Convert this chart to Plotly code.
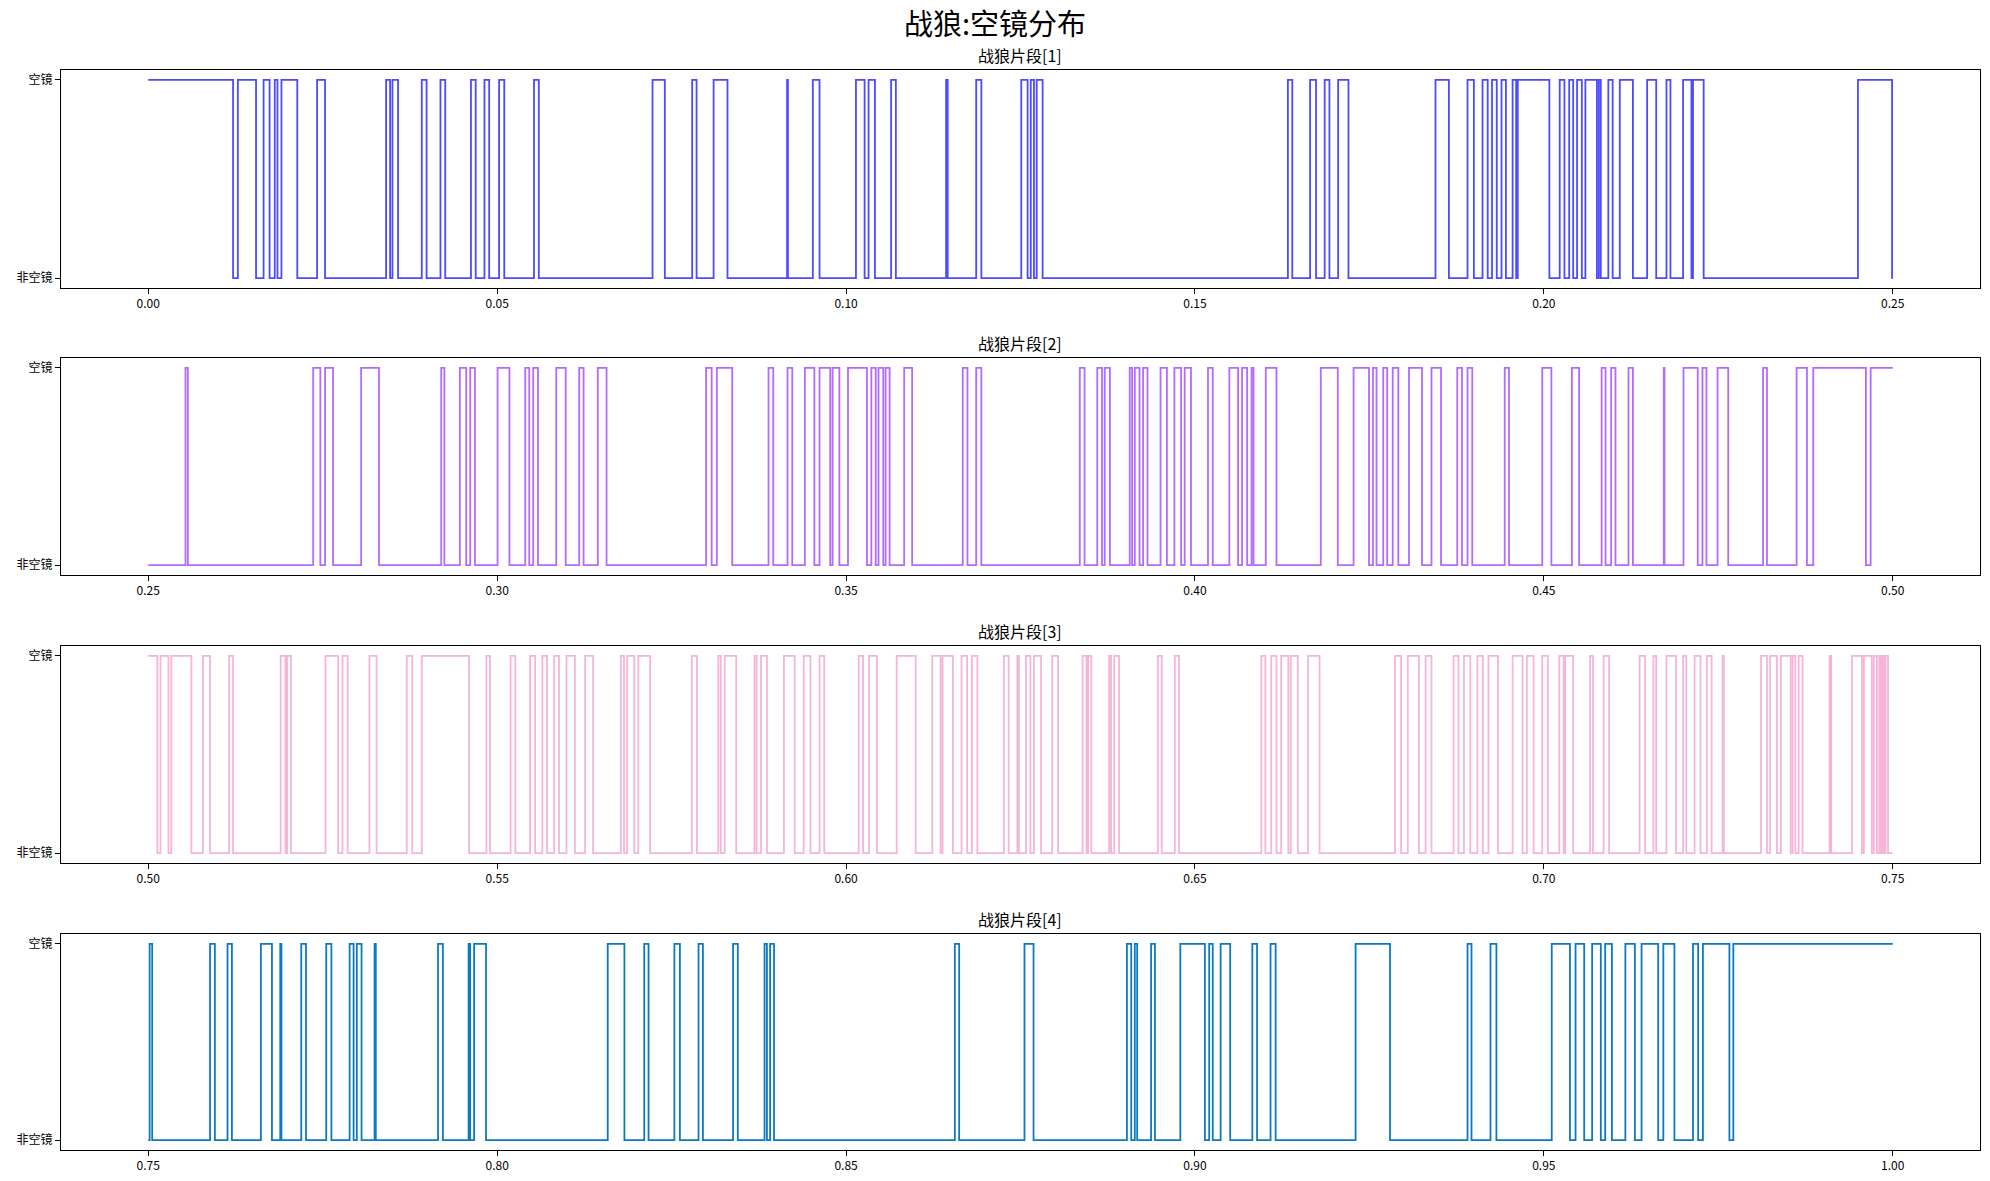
import plotly.graph_objects as go

# ---------------- data: "空镜" (empty shot) intervals per segment ----------------
seg_titles = ["战狼片段[1]", "战狼片段[2]", "战狼片段[3]", "战狼片段[4]"]
seg_bounds = [(0.0, 0.25), (0.25, 0.50), (0.50, 0.75), (0.75, 1.00)]
y_ticktext = ["非空镜", "空镜"]
colors = ["#4b4bff", "#b36bff", "#f5b5d8", "#0d7abf"]

seg1_on = [
    (0.0, 0.01216), (0.01284, 0.01545), (0.01653, 0.01739), (0.01813, 0.01852),
    (0.01909, 0.02136), (0.0242, 0.02534), (0.03409, 0.03466), (0.035, 0.0358),
    (0.0392, 0.03989), (0.04188, 0.04256), (0.04625, 0.04693), (0.04818, 0.04886),
    (0.05028, 0.05102), (0.05528, 0.05597), (0.07227, 0.07403), (0.07795, 0.07858),
    (0.08102, 0.08301), (0.09155, 0.09167), (0.09524, 0.0962), (0.10142, 0.10266),
    (0.10323, 0.10414), (0.10646, 0.10714), (0.11434, 0.11457), (0.11865, 0.11939),
    (0.12511, 0.12602), (0.12647, 0.12693), (0.12732, 0.12817), (0.16332, 0.16395),
    (0.1665, 0.16735), (0.16859, 0.16927), (0.17052, 0.172), (0.18447, 0.18639),
    (0.18906, 0.18997), (0.19121, 0.19195), (0.19257, 0.19325), (0.19393, 0.19456),
    (0.19552, 0.19603), (0.19626, 0.20079), (0.20227, 0.20295), (0.20363, 0.2042),
    (0.20476, 0.20544), (0.20595, 0.2076), (0.20788, 0.20816), (0.20924, 0.20986),
    (0.21088, 0.21276), (0.2148, 0.2161), (0.21757, 0.21814), (0.21995, 0.22115),
    (0.22137, 0.2229), (0.24501, 0.2499),
]

seg2_on = [
    (0.25534, 0.25568), (0.27364, 0.27466), (0.27534, 0.27648), (0.28051, 0.28307),
    (0.29199, 0.29244), (0.29466, 0.29557), (0.29614, 0.29682), (0.30006, 0.30176),
    (0.30403, 0.3046), (0.30517, 0.30585), (0.30847, 0.30983), (0.31176, 0.31239),
    (0.31443, 0.31568), (0.32994, 0.33074), (0.33148, 0.33369), (0.33889, 0.33957),
    (0.34161, 0.34229), (0.3441, 0.34546), (0.3462, 0.34773), (0.34807, 0.34904),
    (0.35028, 0.353), (0.35363, 0.35425), (0.35465, 0.35533), (0.35567, 0.35624),
    (0.35833, 0.35947), (0.36672, 0.3674), (0.36865, 0.36939), (0.3835, 0.38418),
    (0.386, 0.38668), (0.38707, 0.38781), (0.39065, 0.39099), (0.39138, 0.39206),
    (0.39257, 0.3932), (0.39507, 0.39598), (0.39705, 0.39802), (0.39853, 0.39943),
    (0.40187, 0.40255), (0.40493, 0.40618), (0.40675, 0.40748), (0.40811, 0.40839),
    (0.41015, 0.41168), (0.41803, 0.42047), (0.42273, 0.42494), (0.42551, 0.42602),
    (0.42698, 0.42755), (0.42834, 0.42914), (0.43067, 0.43254), (0.4339, 0.43526),
    (0.43759, 0.43827), (0.43906, 0.43974), (0.44439, 0.44501), (0.44977, 0.45108),
    (0.45402, 0.45505), (0.45828, 0.45884), (0.45964, 0.46026), (0.46213, 0.46276),
    (0.46718, 0.46729), (0.47001, 0.47205), (0.47273, 0.4733), (0.47489, 0.47642),
    (0.48141, 0.48197), (0.48622, 0.4877), (0.48861, 0.49615), (0.49683, 0.50),
]

seg3_on = [
    (0.50, 0.50131), (0.50176, 0.5029), (0.5033, 0.50619), (0.50784, 0.50886),
    (0.51159, 0.51216), (0.51898, 0.51966), (0.51989, 0.52045), (0.5254, 0.52722),
    (0.52784, 0.52858), (0.5317, 0.53273), (0.53705, 0.53784), (0.5392, 0.54597),
    (0.54847, 0.54898), (0.55193, 0.55261), (0.55472, 0.55545), (0.55648, 0.55716),
    (0.55818, 0.55886), (0.55994, 0.56114), (0.56261, 0.56375), (0.56773, 0.56818),
    (0.56864, 0.56966), (0.57023, 0.57193), (0.5779, 0.57864), (0.5817, 0.58205),
    (0.58261, 0.58426), (0.58688, 0.58719), (0.58781, 0.58866), (0.5911, 0.59263),
    (0.59393, 0.5949), (0.5962, 0.59688), (0.60181, 0.60244), (0.60329, 0.60442),
    (0.60726, 0.60998), (0.61236, 0.61355), (0.61383, 0.61531), (0.61655, 0.61735),
    (0.61803, 0.61882), (0.62262, 0.6233), (0.62455, 0.62477), (0.62579, 0.62642),
    (0.62693, 0.62795), (0.62954, 0.63039), (0.6339, 0.63447), (0.63469, 0.63515),
    (0.6377, 0.63798), (0.63844, 0.63912), (0.64467, 0.64524), (0.64711, 0.64773),
    (0.65952, 0.66009), (0.66094, 0.66168), (0.66236, 0.66338), (0.66372, 0.66474),
    (0.66621, 0.66786), (0.67868, 0.67954), (0.6805, 0.68209), (0.68305, 0.6839),
    (0.68707, 0.68776), (0.68855, 0.68946), (0.69048, 0.69127), (0.69206, 0.69342),
    (0.69552, 0.69694), (0.69756, 0.69853), (0.69977, 0.70057), (0.70221, 0.70283),
    (0.70306, 0.7042), (0.70663, 0.70703), (0.70856, 0.70935), (0.71372, 0.71451),
    (0.7157, 0.7161), (0.71757, 0.71893), (0.71995, 0.72041), (0.7216, 0.72245),
    (0.72336, 0.72404), (0.72562, 0.72579), (0.73112, 0.73197), (0.73243, 0.73339),
    (0.73396, 0.73537), (0.73566, 0.73605), (0.73651, 0.73707), (0.74093, 0.74116),
    (0.74416, 0.74558), (0.74586, 0.74699), (0.74728, 0.74773), (0.74807, 0.7483),
    (0.74853, 0.74875), (0.74898, 0.74932),
]

seg4_on = [
    (0.7502, 0.75057), (0.75886, 0.75955), (0.76136, 0.76199), (0.76614, 0.76773),
    (0.76892, 0.76909), (0.77193, 0.77261), (0.77551, 0.77625), (0.77886, 0.77943),
    (0.77989, 0.78057), (0.78244, 0.78261), (0.79153, 0.79222), (0.79591, 0.79614),
    (0.7967, 0.79841), (0.81585, 0.81824), (0.82108, 0.8217), (0.8254, 0.82619),
    (0.82886, 0.82949), (0.83381, 0.83449), (0.83832, 0.83866), (0.83912, 0.83968),
    (0.86559, 0.86621), (0.87557, 0.87687), (0.89025, 0.89087), (0.89138, 0.89172),
    (0.89371, 0.89427), (0.8979, 0.90142), (0.90204, 0.90255), (0.90368, 0.90505),
    (0.90822, 0.9089), (0.91083, 0.91156), (0.92302, 0.92795), (0.93906, 0.93963),
    (0.94235, 0.9432), (0.95113, 0.95374), (0.95454, 0.95578), (0.95692, 0.95816),
    (0.95879, 0.95975), (0.96168, 0.96304), (0.964, 0.96638), (0.96712, 0.96871),
    (0.97137, 0.97211), (0.97279, 0.97659), (0.97715, 1.0),
]

segments_on = [seg1_on, seg2_on, seg3_on, seg4_on]


def build_steps(start, end, intervals):
    xs = [start]
    ys = [1 if intervals[0][0] <= start else 0]
    for a, b in intervals:
        if a > start:
            xs.append(a)
            ys.append(1)
        if b < end:
            xs.append(b)
            ys.append(0)
    xs.append(end)
    ys.append(ys[-1])
    return xs, ys


# ---------------- layout geometry (pixels in a 1990x1181 canvas) ----------------
W, H = 1990, 1181
x_dom = [61 / W, 1980 / W]
y_px = [(70, 288), (358, 575), (646, 863), (934, 1150)]

fig = go.Figure()
font_family = "Noto Sans CJK SC, Noto Sans, sans-serif"

for i in range(4):
    start, end = seg_bounds[i]
    xs, ys = build_steps(start, end, segments_on[i])
    xa = "x" if i == 0 else f"x{i+1}"
    ya = "y" if i == 0 else f"y{i+1}"
    fig.add_trace(go.Scatter(
        x=xs, y=ys, mode="lines", line=dict(color=colors[i], width=1.8, shape="hv"),
        xaxis=xa, yaxis=ya, showlegend=False, hoverinfo="x+y"))
    top, bot = y_px[i]
    span = end - start
    axis_common = dict(showline=True, linecolor="black", linewidth=1, mirror=True,
                       ticks="outside", ticklen=5, tickcolor="black", showgrid=False,
                       zeroline=False, tickfont=dict(family=font_family, size=12, color="black"))
    fig.layout[("xaxis" if i == 0 else f"xaxis{i+1}")] = dict(
        domain=x_dom, anchor=ya, range=[start - 0.05 * span, end + 0.05 * span],
        tick0=0, dtick=0.05, tickformat=".2f", **axis_common)
    fig.layout[("yaxis" if i == 0 else f"yaxis{i+1}")] = dict(
        domain=[1 - bot / H, 1 - top / H], anchor=xa, range=[-0.05, 1.05],
        tickvals=[0, 1], ticktext=y_ticktext, **axis_common)
    fig.add_annotation(text=seg_titles[i], xref="paper", yref="paper",
                       x=(x_dom[0] + x_dom[1]) / 2, y=1 - (top - 15) / H,
                       xanchor="center", yanchor="middle", showarrow=False, borderpad=0,
                       font=dict(family=font_family, size=16, color="black"))

fig.add_annotation(text="战狼:空镜分布", xref="paper", yref="paper", x=0.5, y=1 - 22 / H,
                   xanchor="center", yanchor="middle", showarrow=False, borderpad=0,
                   font=dict(family=font_family, size=29, color="black"))

fig.update_layout(width=W, height=H, margin=dict(l=0, r=0, t=0, b=0),
                  plot_bgcolor="white", paper_bgcolor="white")

fig.write_html("out.html")
